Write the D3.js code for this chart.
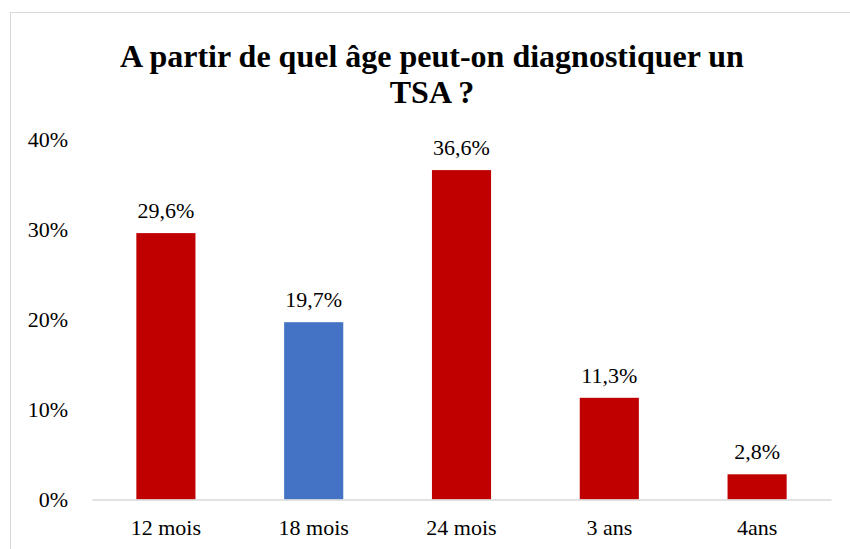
<!DOCTYPE html>
<html>
<head>
<meta charset="utf-8">
<script src="https://cdn.jsdelivr.net/npm/d3@7"></script>
<style>
  body { margin: 0; background: #fff; }
  svg text { font-family: "Liberation Serif", Tinos, "Times New Roman", Times, "DejaVu Serif", serif; }
</style>
</head>
<body>
<div id="chart"></div>
<script>
// data
var categories = ["12 mois", "18 mois", "24 mois", "3 ans", "4ans"];
var values = [29.6, 19.7, 36.6, 11.3, 2.8];
var barColors = ["#C00000", "#4472C4", "#C00000", "#C00000", "#C00000"];
var yTicks = [0, 10, 20, 30, 40];
var titleLines = ["A partir de quel âge peut-on diagnostiquer un", "TSA ?"];

var W = 850, H = 549;
var plot = {left: 92, right: 831, top: 139.5, bottom: 499.5};

var svg = d3.select("#chart").append("svg")
    .attr("width", W)
    .attr("height", H);

// chart frame
svg.append("rect")
    .attr("x", 10.5).attr("y", 12.5)
    .attr("width", W).attr("height", H)
    .attr("fill", "#fff")
    .attr("stroke", "#d9d9d9");

// title
svg.append("g").selectAll("text")
    .data(titleLines).enter().append("text")
    .attr("x", 432)
    .attr("y", function(d, i) { return 67 + i * 36; })
    .attr("text-anchor", "middle")
    .attr("font-size", 32)
    .attr("font-weight", "bold")
    .attr("fill", "#000")
    .text(function(d) { return d; });

var x = d3.scaleBand()
    .domain(categories)
    .range([plot.left, plot.right])
    .paddingInner(0.6)
    .paddingOuter(0.3);

var y = d3.scaleLinear()
    .domain([0, 40])
    .range([plot.bottom, plot.top]);

// y axis labels, no line
var yAxis = svg.append("g")
    .attr("transform", "translate(" + plot.left + ",0)")
    .call(d3.axisLeft(y).tickValues(yTicks).tickSize(0).tickPadding(24)
        .tickFormat(function(d) { return d + "%"; }));
yAxis.select(".domain").remove();
yAxis.selectAll("text")
    .attr("font-size", 22)
    .attr("fill", "#000");

// bars
svg.append("g").selectAll("rect")
    .data(values).enter().append("rect")
    .attr("x", function(d, i) { return x(categories[i]); })
    .attr("y", function(d) { return y(d); })
    .attr("width", x.bandwidth())
    .attr("height", function(d) { return y(0) - y(d); })
    .attr("fill", function(d, i) { return barColors[i]; });

// x axis
var xAxis = svg.append("g")
    .attr("transform", "translate(0," + plot.bottom + ")")
    .call(d3.axisBottom(x).tickSize(0).tickPadding(20));
xAxis.select(".domain")
    .attr("stroke", "#d9d9d9")
    .attr("stroke-width", 1.5);
xAxis.selectAll("text")
    .attr("font-size", 22)
    .attr("fill", "#000");

// value labels
svg.append("g").selectAll("text")
    .data(values).enter().append("text")
    .attr("x", function(d, i) { return x(categories[i]) + x.bandwidth() / 2; })
    .attr("y", function(d) { return y(d) - 15; })
    .attr("text-anchor", "middle")
    .attr("font-size", 22)
    .attr("fill", "#000")
    .text(function(d) { return d.toFixed(1).replace(".", ",") + "%"; });
</script>
</body>
</html>
